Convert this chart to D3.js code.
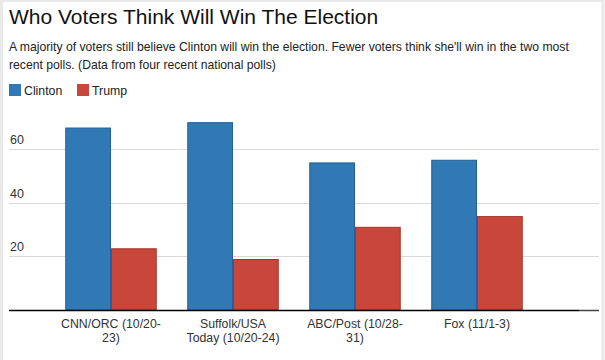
<!DOCTYPE html>
<html>
<head>
<meta charset="utf-8">
<script src="https://cdn.jsdelivr.net/npm/d3@7"></script>
<style>
  html, body { margin: 0; padding: 0; background: #fff; }
  svg { display: block; }
  text { font-family: "Liberation Sans", Arial, Helvetica, sans-serif; }
</style>
</head>
<body>
<svg id="chart" width="605" height="360"></svg>
<script>
const categories = ["CNN/ORC (10/20-23)", "Suffolk/USA Today (10/20-24)", "ABC/Post (10/28-31)", "Fox (11/1-3)"];
const categoryLines = [["CNN/ORC (10/20-", "23)"], ["Suffolk/USA", "Today (10/20-24)"], ["ABC/Post (10/28-", "31)"], ["Fox (11/1-3)"]];
const seriesNames = ["Clinton", "Trump"];
const clinton = [68, 70, 55, 56];
const trump = [23, 19, 31, 35];
const yTicks = [20, 40, 60];
const colors = { Clinton: "#3179b5", Trump: "#c8473a" };
const strokes = { Clinton: "#21609a", Trump: "#a9342a" };

const svg = d3.select("#chart");
const W = 605, H = 360;

// frame
svg.append("rect").attr("x", 1.5).attr("y", 0.5).attr("width", W - 3.5).attr("height", H + 5)
  .attr("fill", "#fff").attr("stroke", "#e9e9e9").attr("stroke-width", 3);

// title + subtitle
svg.append("text").attr("x", 9).attr("y", 23.5).attr("font-size", 21).attr("fill", "#111")
  .text("Who Voters Think Will Win The Election");
const sub = svg.append("text").attr("font-size", 12.2).attr("fill", "#222");
sub.append("tspan").attr("x", 9).attr("y", 50.5)
  .text("A majority of voters still believe Clinton will win the election. Fewer voters think she'll win in the two most");
sub.append("tspan").attr("x", 9).attr("y", 68.5)
  .text("recent polls. (Data from four recent national polls)");

// legend
const leg = svg.append("g");
const legX = [9, 77];
seriesNames.forEach((s, i) => {
  leg.append("rect").attr("x", legX[i]).attr("y", 84).attr("width", 12).attr("height", 12)
    .attr("fill", colors[s]);
  leg.append("text").attr("x", legX[i] + 15).attr("y", 95).attr("font-size", 12.3).attr("fill", "#222").text(s);
});

// scales
const y = d3.scaleLinear().domain([0, 60]).range([310, 149]);
const x0 = d3.scaleBand().domain(categories).range([50, 538]).paddingInner(0.25).paddingOuter(0.125);
const x1 = d3.scaleBand().domain(seriesNames).range([0, x0.bandwidth()]);

// gridlines
const grid = svg.append("g");
grid.selectAll("line").data(yTicks).join("line")
  .attr("x1", 9).attr("x2", 599)
  .attr("y1", d => Math.round(y(d)) + 0.5).attr("y2", d => Math.round(y(d)) + 0.5)
  .attr("stroke", "#d9d9d9").attr("stroke-width", 1);
grid.selectAll("text").data(yTicks).join("text")
  .attr("x", 10).attr("y", d => y(d) - 5)
  .attr("font-size", 12.5).attr("fill", "#333").text(d => d);

// bars
const data = categories.map((c, i) => ({ cat: c, vals: [{ s: "Clinton", v: clinton[i] }, { s: "Trump", v: trump[i] }] }));
const groups = svg.append("g").selectAll("g").data(data).join("g")
  .attr("transform", d => `translate(${x0(d.cat)},0)`);
groups.selectAll("rect").data(d => d.vals).join("rect")
  .attr("x", d => x1(d.s) + 0.5)
  .attr("y", d => y(d.v) + 0.5)
  .attr("width", x1.bandwidth() - 1)
  .attr("height", d => y(0) - y(d.v) - 0.5)
  .attr("fill", d => colors[d.s])
  .attr("stroke", d => strokes[d.s])
  .attr("stroke-width", 1);

// baseline
svg.append("line").attr("x1", 9).attr("x2", 579).attr("y1", 310.5).attr("y2", 310.5)
  .attr("stroke", "#000").attr("stroke-width", 1.5);
svg.append("line").attr("x1", 579).attr("x2", 599).attr("y1", 310.5).attr("y2", 310.5)
  .attr("stroke", "#444").attr("stroke-width", 1.5);

// x labels
const xAxis = svg.append("g");
categories.forEach((c, i) => {
  const t = xAxis.append("text").attr("text-anchor", "middle").attr("font-size", 12.3).attr("fill", "#333");
  categoryLines[i].forEach((ln, j) => {
    t.append("tspan").attr("x", x0(c) + x0.bandwidth() / 2).attr("y", 328 + j * 14).text(ln);
  });
});
</script>
</body>
</html>
